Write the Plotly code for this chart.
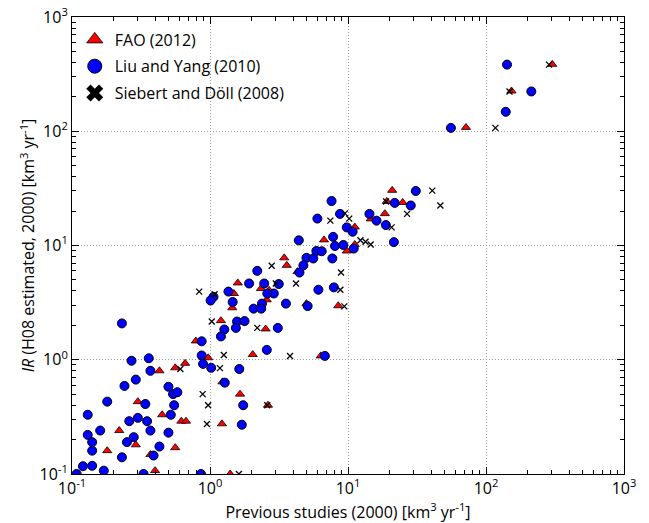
import plotly.graph_objects as go

# FAO (2012) - red triangles
fao_x = [0.43, 0.56, 0.66, 0.97, 0.30, 0.45, 0.62, 0.67, 0.22, 0.29, 0.18, 0.37, 0.56, 0.40,
         2.04, 1.23, 1.65, 1.22, 1.40, 11.2, 14.6, 6.7, 11.2, 9.8, 3.45, 3.6, 1.59, 2.34, 1.49,
         2.58, 1.45, 5.0, 8.5, 1.2, 2.53, 0.79, 4.3, 2.68, 6.35, 2.63, 20.9, 19.1, 24.9, 18.5,
         302, 153, 71.6]
fao_y = [0.80, 0.85, 0.93, 1.04, 0.43, 0.33, 0.29, 0.29, 0.24, 0.18, 0.16, 0.148, 0.17, 0.107,
         1.11, 0.64, 0.50, 0.275, 0.1, 14.5, 17.1, 11.2, 10.2, 8.95, 7.8, 6.7, 4.7, 4.2, 3.8,
         3.35, 2.85, 3.1, 2.97, 2.2, 1.86, 1.46, 5.9, 4.06, 1.08, 0.40, 30.4, 24.3, 23.8, 19.0,
         385, 225, 108]

# Liu and Yang (2010) - blue circles
liu_x = [0.23, 0.27, 0.36, 0.37, 0.29, 0.24, 0.18, 0.34, 0.13, 0.26, 0.30, 0.35, 0.37, 0.28,
         0.25, 0.16, 0.13, 0.14, 0.14, 0.23, 0.12, 0.14, 0.17, 0.108, 0.33, 0.39, 0.43, 0.50,
         0.54, 0.58, 0.55, 0.52, 0.50, 0.86, 0.87, 0.89, 1.02, 1.63, 1.28, 1.74, 1.70,
         7.6, 8.75, 6.0, 14.3, 16.1, 9.8, 10.8, 7.8, 4.4, 8.05, 9.25, 11.0, 5.9, 6.45, 5.0,
         5.6, 7.7, 4.75, 4.45, 2.2, 1.92, 2.47, 3.15, 2.9, 2.6, 1.36, 1.06, 1.01, 1.46, 2.38,
         2.07, 2.35, 3.55, 5.1, 6.1, 7.9, 1.57, 1.78, 1.27, 1.54, 1.2, 3.1, 0.87, 2.58, 6.8,
         31, 21.8, 28.5, 18.8, 21.5, 142, 213, 139, 55.7]
liu_y = [2.08, 0.98, 1.03, 0.80, 0.67, 0.59, 0.43, 0.41, 0.33, 0.29, 0.31, 0.29, 0.24, 0.21,
         0.19, 0.24, 0.22, 0.19, 0.16, 0.14, 0.117, 0.118, 0.107, 0.1, 0.1, 0.145, 0.174, 0.58,
         0.50, 0.52, 0.40, 0.33, 0.23, 0.1, 1.09, 0.92, 0.85, 0.83, 0.63, 0.40, 0.27,
         24.5, 18.9, 17.2, 18.9, 16.5, 14.4, 13.2, 11.9, 11.1, 9.9, 10.1, 9.4, 8.95, 8.9, 7.8,
         7.7, 7.7, 6.7, 5.8, 6.0, 4.65, 4.65, 4.6, 3.8, 3.8, 3.95, 3.55, 3.3, 3.2, 3.1,
         2.8, 2.8, 3.1, 2.95, 4.1, 4.3, 2.16, 2.18, 1.84, 1.9, 1.6, 1.9, 1.45, 1.22, 1.08,
         30, 23.6, 22.4, 15.1, 10.7, 383, 223, 148, 107]

# Siebert and Döll (2008) - black crosses
sd_x = [1.26, 0.61, 1.18, 0.885, 0.97, 0.95, 1.62, 9.5, 10.2, 7.45, 12.3, 13.4, 14.6, 2.8,
        3.0, 4.2, 8.9, 8.8, 9.4, 0.835, 1.08, 1.03, 2.2, 3.8, 2.6, 40.8, 18.9, 26.8, 46.7,
        20.7, 286, 148, 117]
sd_y = [1.10, 0.83, 0.845, 0.50, 0.40, 0.274, 0.1, 19.1, 17.2, 16.5, 11.1, 10.8, 10.2, 6.65,
        4.65, 4.65, 5.8, 4.1, 2.93, 3.95, 3.75, 2.16, 1.9, 1.08, 0.40, 30.2, 24.3, 18.9, 22.4,
        14.4, 383, 223, 107]

names = ["FAO (2012)", "Liu and Yang (2010)", "Siebert and Döll (2008)"]

tick_vals = [0.1, 1, 10, 100, 1000]
tick_text = ["10<sup>-1</sup>", "10<sup>0</sup>", "10<sup>1</sup>", "10<sup>2</sup>", "10<sup>3</sup>"]

FONT = "Open Sans"

fig = go.Figure()
fig.add_trace(go.Scatter(
    x=fao_x, y=fao_y, mode="markers", showlegend=False, name=names[0],
    marker=dict(symbol="triangle-up", size=8, color="red",
                line=dict(color="black", width=0.8))))
fig.add_trace(go.Scatter(
    x=liu_x, y=liu_y, mode="markers", showlegend=False, name=names[1],
    marker=dict(symbol="circle", size=9, color="blue",
                line=dict(color="black", width=1))))
fig.add_trace(go.Scatter(
    x=sd_x, y=sd_y, mode="markers", showlegend=False, name=names[2],
    marker=dict(symbol="x-thin", size=6, color="black",
                line=dict(color="black", width=1.3))))

# legend entries (larger symbols, like the reference legend)
fig.add_trace(go.Scatter(
    x=[None], y=[None], mode="markers", name=names[0], legendgroup="a",
    marker=dict(symbol="triangle-up", size=14, color="red",
                line=dict(color="black", width=0.8))))
fig.add_trace(go.Scatter(
    x=[None], y=[None], mode="markers", name=names[1], legendgroup="b",
    marker=dict(symbol="circle", size=14, color="blue",
                line=dict(color="black", width=1))))
fig.add_trace(go.Scatter(
    x=[None], y=[None], mode="markers", name=names[2], legendgroup="c",
    marker=dict(symbol="x", size=15, color="black",
                line=dict(color="black", width=0))))

axis_common = dict(
    type="log", tickmode="array", tickvals=tick_vals, ticktext=tick_text,
    automargin=False, ticklabeloverflow="allow",
    showline=True, linecolor="black", linewidth=1, mirror="ticks",
    ticks="inside", ticklen=7, tickwidth=1, tickcolor="black",
    showgrid=True, gridcolor="#9a9a9a", griddash="1px,2px", gridwidth=1,
    zeroline=False,
    tickfont=dict(family=FONT, size=16, color="black"),
    minor=dict(ticks="inside", ticklen=4, tickcolor="black", dtick="D1",
               showgrid=False),
)

fig.update_xaxes(
    range=[-1, 3],
    title=dict(text="Previous studies (2000) [km<sup>3</sup> yr<sup>-1</sup>]",
               font=dict(family=FONT, size=16, color="black"), standoff=2),
    **axis_common)
fig.update_yaxes(
    range=[-1, 3],
    title=dict(text="<i>IR</i> (H08 estimated, 2000) [km<sup>3</sup> yr<sup>-1</sup>]",
               font=dict(family=FONT, size=16, color="black"), standoff=0),
    **axis_common)

# the page adds an 8px body margin, so the figure is sized to fill the rest
fig.update_layout(
    template="none",
    width=641, height=515,
    margin=dict(l=64, r=25, t=9, b=49),
    paper_bgcolor="white", plot_bgcolor="white",
    font=dict(family=FONT, size=16, color="black"),
    legend=dict(x=0.005, y=0.988, xanchor="left", yanchor="top",
                bgcolor="rgba(0,0,0,0)", borderwidth=0,
                font=dict(family=FONT, size=16, color="black"),
                tracegroupgap=3),
)

fig.write_html("out.html")
